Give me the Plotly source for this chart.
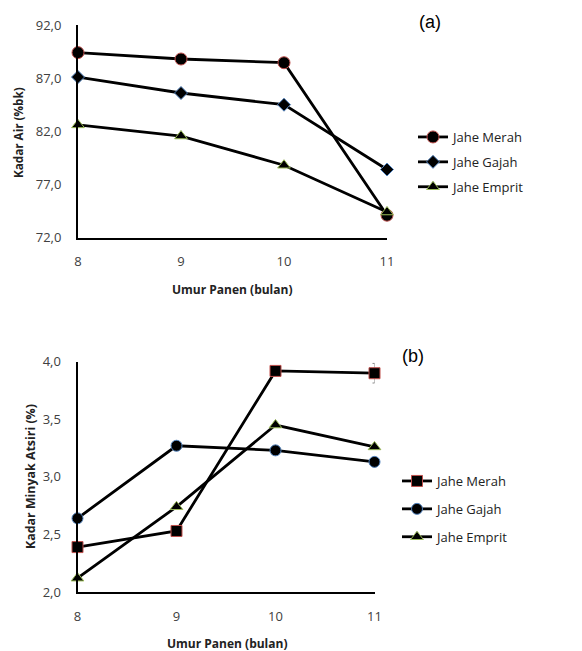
import plotly.graph_objects as go

# page body has an 8px margin; the figure is sized to fill the rest of the window
OFF = 8
W, H = 582 - OFF, 651 - OFF

# Data
umur = [8, 9, 10, 11]
series_names = ["Jahe Merah", "Jahe Gajah", "Jahe Emprit"]

kadar_air_merah = [89.4, 88.8, 88.45, 74.1]
kadar_air_gajah = [87.1, 85.6, 84.5, 78.4]
kadar_air_emprit = [82.6, 81.55, 78.8, 74.4]

minyak_merah = [2.39, 2.53, 3.92, 3.90]
minyak_merah_err = [0, 0, 0, 0.085]
minyak_gajah = [2.64, 3.27, 3.23, 3.13]
minyak_emprit = [2.12, 2.74, 3.45, 3.26]

air_ticks = [72, 77, 82, 87, 92]
air_ticktext = ["72,0", "77,0", "82,0", "87,0", "92,0"]
minyak_ticks = [2.0, 2.5, 3.0, 3.5, 4.0]
minyak_ticktext = ["2,0", "2,5", "3,0", "3,5", "4,0"]
x_ticktext = ["8", "9", "10", "11"]

def px(x):
    return (x - OFF) / W

def py(y):
    return 1 - (y - OFF) / H

RED = "#c0504d"
BLUE = "#4f81bd"
GREEN = "#9bbb59"
FONT = "Open Sans"

fig = go.Figure()

# (a)
styles_a = [("circle", 12, RED), ("diamond", 10, BLUE), ("triangle-up", 11, GREEN)]
for name, vals, (sym, sz, oc) in zip(series_names, [kadar_air_merah, kadar_air_gajah, kadar_air_emprit], styles_a):
    fig.add_trace(go.Scatter(
        x=umur, y=vals, name=name, mode="lines+markers",
        line=dict(color="black", width=2.8),
        marker=dict(symbol=sym, size=sz, color="black", line=dict(color=oc, width=1)),
        cliponaxis=False, xaxis="x", yaxis="y", legend="legend", legendgroup="a" + name,
    ))

# (b)
styles_b = [("square", 11, RED), ("circle", 11, BLUE), ("triangle-up", 11, GREEN)]
for i, (name, vals, (sym, sz, oc)) in enumerate(zip(series_names, [minyak_merah, minyak_gajah, minyak_emprit], styles_b)):
    kw = {}
    if i == 0:
        kw["error_y"] = dict(type="data", array=minyak_merah_err, color="#888888", thickness=1, width=2)
    fig.add_trace(go.Scatter(
        x=umur, y=vals, name=name, mode="lines+markers",
        line=dict(color="black", width=2.8),
        marker=dict(symbol=sym, size=sz, color="black", line=dict(color=oc, width=1)),
        cliponaxis=False, xaxis="x2", yaxis="y2", legend="legend2", legendgroup="b" + name,
        **kw,
    ))

tickfont = dict(family=FONT, size=13, color="#404040")
common = dict(showline=True, linecolor="black", linewidth=2, showgrid=False, zeroline=False,
              ticks="", tickfont=tickfont, automargin=False, fixedrange=True)

fig.update_layout(
    width=W, height=H,
    margin=dict(l=0, r=0, t=0, b=0, autoexpand=False),
    paper_bgcolor="white", plot_bgcolor="white",
    showlegend=True,
    xaxis=dict(domain=[px(78), px(387)], range=[8, 11], tickvals=umur, ticktext=x_ticktext,
               ticklabelstandoff=11, anchor="y", **common),
    yaxis=dict(domain=[py(237.5), py(25)], range=[72, 92], tickvals=air_ticks, ticktext=air_ticktext,
               ticklabelstandoff=12, anchor="x", **common),
    xaxis2=dict(domain=[px(77.5), px(374.5)], range=[8, 11], tickvals=umur, ticktext=x_ticktext,
                ticklabelstandoff=11, anchor="y2", **common),
    yaxis2=dict(domain=[py(592), py(361.7)], range=[2.0, 4.0], tickvals=minyak_ticks, ticktext=minyak_ticktext,
                ticklabelstandoff=12, anchor="x2", **common),
    legend=dict(x=px(413), y=py(122), xanchor="left", yanchor="top",
                font=dict(family=FONT, size=13, color="#222222"), bgcolor="rgba(0,0,0,0)",
                tracegroupgap=5, itemwidth=30),
    legend2=dict(x=px(397), y=py(466), xanchor="left", yanchor="top",
                 font=dict(family=FONT, size=13, color="#222222"), bgcolor="rgba(0,0,0,0)",
                 tracegroupgap=8, itemwidth=30),
    annotations=[
        dict(text="(a)", x=px(430), y=py(22), xref="paper", yref="paper", showarrow=False,
             font=dict(family="Liberation Sans", size=18, color="black"), xanchor="center", yanchor="middle"),
        dict(text="(b)", x=px(413), y=py(356), xref="paper", yref="paper", showarrow=False,
             font=dict(family="Liberation Sans", size=18, color="black"), xanchor="center", yanchor="middle"),
        dict(text="<b>Kadar Air (%bk)</b>", x=px(18), y=py(133), xref="paper", yref="paper", showarrow=False,
             textangle=-90, font=dict(family=FONT, size=11.7, color="#222222"), xanchor="center", yanchor="middle"),
        dict(text="<b>Umur Panen (bulan)</b>", x=px(232), y=py(289), xref="paper", yref="paper", showarrow=False,
             font=dict(family=FONT, size=12, color="#222222"), xanchor="center", yanchor="middle"),
        dict(text="<b>Kadar Minyak Atsiri (%)</b>", x=px(30), y=py(477), xref="paper", yref="paper", showarrow=False,
             textangle=-90, font=dict(family=FONT, size=12.4, color="#222222"), xanchor="center", yanchor="middle"),
        dict(text="<b>Umur Panen (bulan)</b>", x=px(227), y=py(643), xref="paper", yref="paper", showarrow=False,
             font=dict(family=FONT, size=12, color="#222222"), xanchor="center", yanchor="middle"),
    ],
)

fig.write_html("out.html")
